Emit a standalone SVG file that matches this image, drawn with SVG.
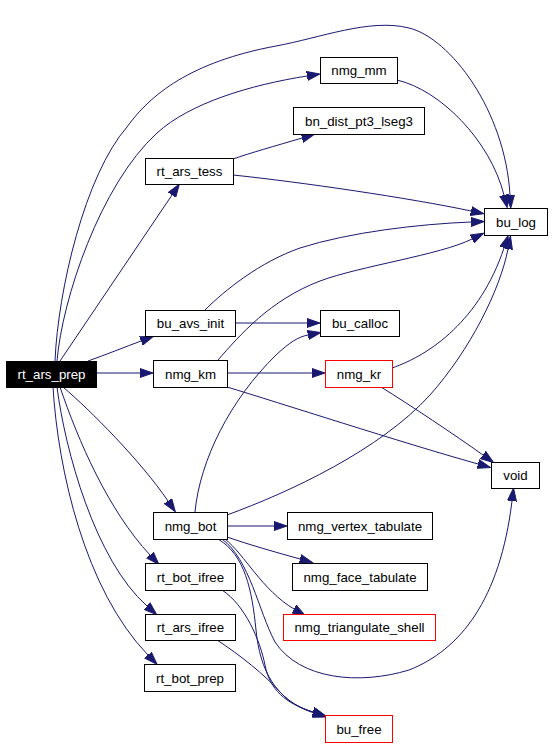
<svg xmlns="http://www.w3.org/2000/svg" width="552" height="747" viewBox="0 0 552 747">
<style>
.n rect{fill:#fff;stroke:#000;stroke-width:1}
.n.r rect{stroke:#f00}
text{font-family:"Liberation Sans",Arial,Helvetica,sans-serif;font-size:13.3px;text-anchor:middle;fill:#000}
.e path{fill:none;stroke:#191970;stroke-width:1;marker-end:url(#a)}
</style>
<defs>
<marker id="a" markerWidth="14" markerHeight="10" refX="0" refY="5" orient="auto" markerUnits="userSpaceOnUse">
<path d="M0,0.5 L13,5 L0,9.5 z" fill="#191970" stroke="#191970" stroke-width="1"/>
</marker>
</defs>
<rect width="552" height="747" fill="#fff"/>
<g id="edges" class="e">
<path d="M55,361 C58,290 85,175 127,127 C150,95 190,62 276,46 C320,38 370,18 409,28 C450,38 505,110 510,195"/>
<path d="M57,361 C62,300 100,185 157,133 C190,103 250,85 307,76"/>
<path d="M60,361 L172,195"/>
<path d="M233,159 C250,153 275,146 302,138"/>
<path d="M233,175 C300,182 410,198 471,211"/>
<path d="M397,80 C440,90 490,140 504,195"/>
<path d="M205,310 C225,290 260,262 300,248 C350,232 420,224 471,222"/>
<path d="M218,360 C240,335 270,300 320,281 C360,266 440,255 472,239"/>
<path d="M235,323 L307,323"/>
<path d="M227,373 L312,373"/>
<path d="M96,373 L140,373"/>
<path d="M88,361 C105,355 125,347 141,341"/>
<path d="M227,387 C280,403 400,442 478,464"/>
<path d="M381,387 C410,405 455,435 483,455"/>
<path d="M392,368 C430,355 480,320 504,248"/>
<path d="M227,515 C290,492 380,450 430,395 C470,350 500,290 508,249"/>
<path d="M195,512 C200,460 230,400 276,355 C290,342 298,337 308,335"/>
<path d="M63,387 C90,410 140,460 168,501"/>
<path d="M60,387 C78,440 108,510 150,555"/>
<path d="M57,387 C65,450 95,560 147,606"/>
<path d="M53,387 C58,470 85,590 148,655"/>
<path d="M227,526 L274,526"/>
<path d="M227,537 C250,545 275,552 300,559"/>
<path d="M225,539 C245,555 262,590 294,609"/>
<path d="M222,539 C250,560 258,610 275,642 C300,680 360,685 409,670 C460,650 500,600 512,501"/>
<path d="M218,539 C245,555 252,590 256,630 C260,670 275,700 314,713"/>
<path d="M222,590 C245,605 260,640 265,665 C270,690 285,703 313,712"/>
<path d="M217,640 C240,655 265,675 280,692 C290,703 300,708 313,712"/>
</g>
<g id="rt_ars_prep"><rect x="6.5" y="361.5" width="90" height="26" fill="#000" stroke="#000"/><text x="51.5" y="379" fill="#fff" style="fill:#fff">rt_ars_prep</text></g>
<g id="rt_ars_tess" class="n"><rect x="145.5" y="158.5" width="88" height="26"/><text x="189.5" y="176">rt_ars_tess</text></g>
<g id="nmg_mm" class="n"><rect x="320.5" y="57.5" width="77" height="26"/><text x="359" y="75">nmg_mm</text></g>
<g id="bn_dist_pt3_lseg3" class="n"><rect x="293.5" y="107.5" width="131" height="27"/><text x="359" y="125.5">bn_dist_pt3_lseg3</text></g>
<g id="bu_log" class="n"><rect x="484.5" y="208.5" width="63" height="27"/><text x="516" y="226.5">bu_log</text></g>
<g id="bu_avs_init" class="n"><rect x="145.5" y="310.5" width="90" height="26"/><text x="190.5" y="328">bu_avs_init</text></g>
<g id="nmg_km" class="n"><rect x="153.5" y="360.5" width="74" height="27"/><text x="190.5" y="378.5">nmg_km</text></g>
<g id="bu_calloc" class="n"><rect x="320.5" y="310.5" width="79" height="26"/><text x="360" y="328">bu_calloc</text></g>
<g id="nmg_kr" class="n r"><rect x="325.5" y="360.5" width="67" height="27"/><text x="359" y="378.5">nmg_kr</text></g>
<g id="void" class="n"><rect x="491.5" y="462.5" width="48" height="26"/><text x="515.5" y="480">void</text></g>
<g id="nmg_bot" class="n"><rect x="153.5" y="512.5" width="74" height="27"/><text x="190.5" y="530.5">nmg_bot</text></g>
<g id="rt_bot_ifree" class="n"><rect x="145.5" y="563.5" width="90" height="27"/><text x="190.5" y="581.5">rt_bot_ifree</text></g>
<g id="rt_ars_ifree" class="n"><rect x="145.5" y="614.5" width="90" height="26"/><text x="190.5" y="632">rt_ars_ifree</text></g>
<g id="rt_bot_prep" class="n"><rect x="144.5" y="664.5" width="91" height="27"/><text x="190" y="682.5">rt_bot_prep</text></g>
<g id="nmg_vertex_tabulate" class="n"><rect x="287.5" y="512.5" width="145" height="27"/><text x="360" y="530.5">nmg_vertex_tabulate</text></g>
<g id="nmg_face_tabulate" class="n"><rect x="292.5" y="563.5" width="135" height="27"/><text x="360" y="581.5">nmg_face_tabulate</text></g>
<g id="nmg_triangulate_shell" class="n r"><rect x="283.5" y="614.5" width="152" height="26"/><text x="359.5" y="632">nmg_triangulate_shell</text></g>
<g id="bu_free" class="n r"><rect x="325.5" y="715.5" width="67" height="27"/><text x="359" y="733.5">bu_free</text></g>
</svg>
